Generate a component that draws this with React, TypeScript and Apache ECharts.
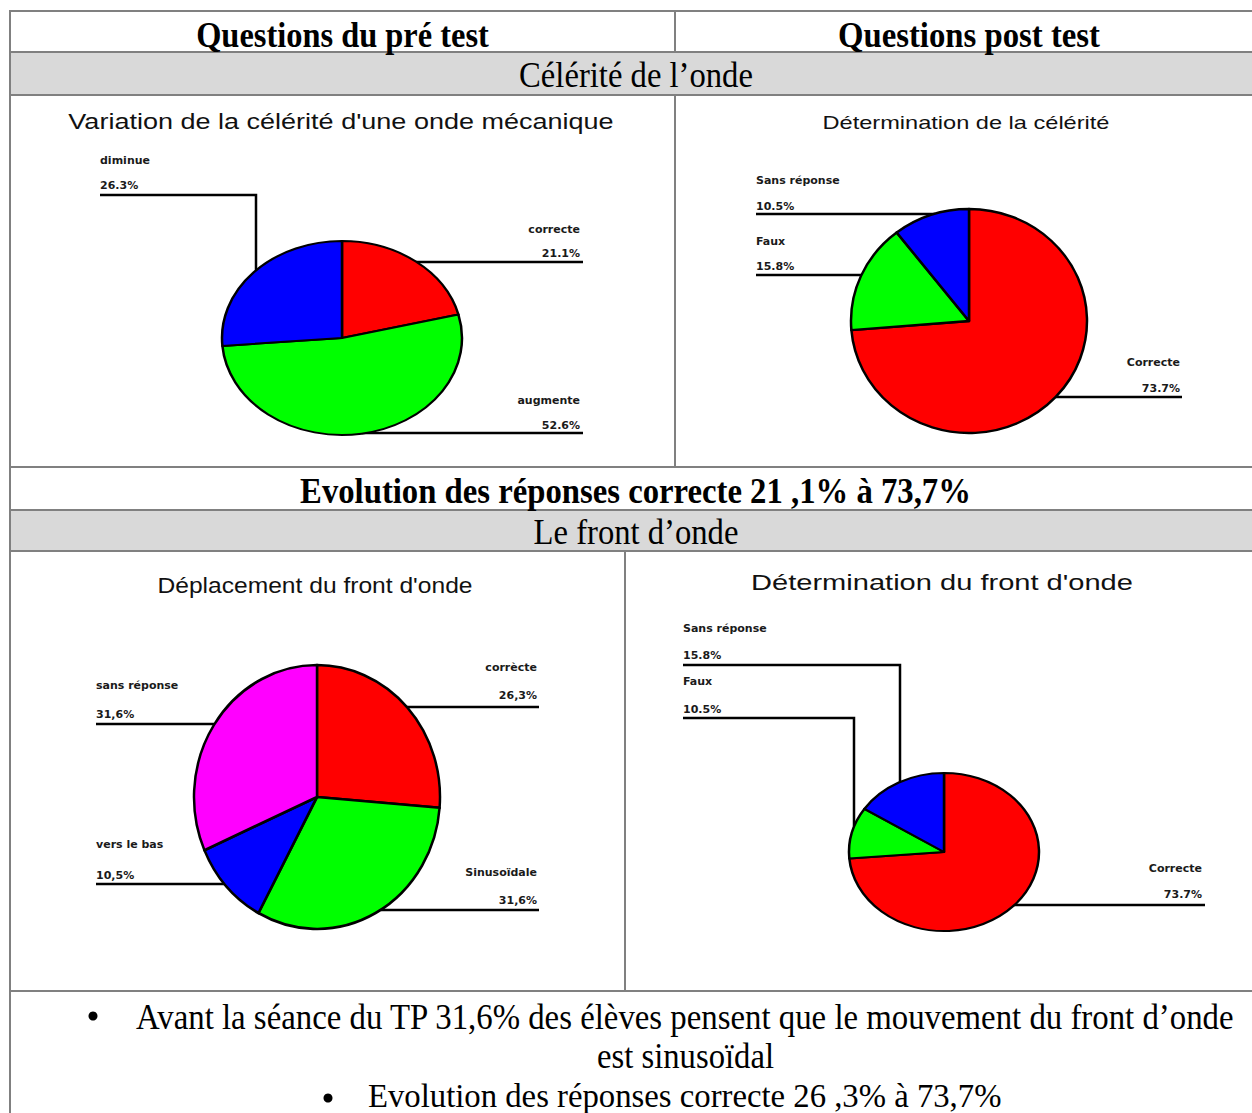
import React, { useEffect, useRef } from 'react';
import * as echarts from 'echarts';

// ---- Data ----
const pie1Title = "Variation de la célérité d'une onde mécanique";
const pie1Names = ['correcte', 'augmente', 'diminue'];
const pie1Values = [21.1, 52.6, 26.3];

const pie2Title = 'Détermination de la célérité';
const pie2Names = ['Correcte', 'Faux', 'Sans réponse'];
const pie2Values = [73.7, 15.8, 10.5];

const pie3Title = "Déplacement du front d'onde";
const pie3Names = ['corrècte', 'Sinusoïdale', 'vers le bas', 'sans réponse'];
const pie3Values = [26.3, 31.6, 10.5, 31.6];

const pie4Title = "Détermination du front d'onde";
const pie4Names = ['Correcte', 'Faux', 'Sans réponse'];
const pie4Values = [73.7, 10.5, 15.8];

const headerLeft = 'Questions du pré test';
const headerRight = 'Questions post test';
const section1 = 'Célérité de l’onde';
const summary1 = 'Evolution des réponses correcte 21 ,1% à 73,7%';
const section2 = 'Le front d’onde';
const note1a = 'Avant la séance du TP 31,6% des élèves pensent que le mouvement du front d’onde';
const note1b = 'est sinusoïdal';
const note2 = 'Evolution des réponses correcte 26 ,3% à 73,7%';

// ---- Styles / layout ----
const RED = '#ff0000';
const GREEN = '#00ff00';
const BLUE = '#0000ff';
const MAGENTA = '#ff00ff';

type LabelPos = { x: number; align: 'left' | 'right'; nameY: number; valueY: number; line: number[][] };
type PieCfg = {
  title: string; names: string[]; values: number[]; colors: string[]; comma: boolean;
  titleX: number; titleY: number; titleSize: number; titleW: number;
  cx: number; cy: number; rx: number; ry: number; labels: LabelPos[];
};

const pies: PieCfg[] = [
  {
    title: pie1Title, names: pie1Names, values: pie1Values, colors: [RED, GREEN, BLUE], comma: false,
    titleX: 341, titleY: 121, titleSize: 22, titleW: 546,
    cx: 342, cy: 338, rx: 120, ry: 97,
    labels: [
      { x: 580, align: 'right', nameY: 229, valueY: 253, line: [[583, 262], [414, 262]] },
      { x: 580, align: 'right', nameY: 400, valueY: 425, line: [[583, 433], [362, 433]] },
      { x: 100, align: 'left', nameY: 160, valueY: 185, line: [[100, 195], [256, 195], [256, 271]] },
    ],
  },
  {
    title: pie2Title, names: pie2Names, values: pie2Values, colors: [RED, GREEN, BLUE], comma: false,
    titleX: 966, titleY: 123, titleSize: 19, titleW: 287,
    cx: 969, cy: 321, rx: 118, ry: 112,
    labels: [
      { x: 1180, align: 'right', nameY: 362, valueY: 388, line: [[1182, 397], [1056, 397]] },
      { x: 756, align: 'left', nameY: 241, valueY: 266, line: [[756, 275], [862, 275]] },
      { x: 756, align: 'left', nameY: 180, valueY: 206, line: [[756, 214], [935, 214]] },
    ],
  },
  {
    title: pie3Title, names: pie3Names, values: pie3Values, colors: [RED, GREEN, BLUE, MAGENTA], comma: true,
    titleX: 315, titleY: 585, titleSize: 22, titleW: 315,
    cx: 317, cy: 797, rx: 123, ry: 132,
    labels: [
      { x: 537, align: 'right', nameY: 667, valueY: 695, line: [[539, 707], [405, 707]] },
      { x: 537, align: 'right', nameY: 872, valueY: 900, line: [[539, 910], [381, 910]] },
      { x: 96, align: 'left', nameY: 844, valueY: 875, line: [[96, 884], [225, 884]] },
      { x: 96, align: 'left', nameY: 685, valueY: 714, line: [[96, 724], [214, 724]] },
    ],
  },
  {
    title: pie4Title, names: pie4Names, values: pie4Values, colors: [RED, GREEN, BLUE], comma: false,
    titleX: 942, titleY: 582, titleSize: 22, titleW: 382,
    cx: 944, cy: 852, rx: 95, ry: 79,
    labels: [
      { x: 1202, align: 'right', nameY: 868, valueY: 894, line: [[1205, 905], [1014, 905]] },
      { x: 683, align: 'left', nameY: 681, valueY: 709, line: [[683, 718], [854, 718], [854, 826]] },
      { x: 683, align: 'left', nameY: 628, valueY: 655, line: [[683, 665], [900, 665], [900, 782]] },
    ],
  },
];

const SERIF = '"Liberation Serif", "Times New Roman", serif';
const SANS = '"Liberation Sans", Arial, sans-serif';
const LABEL_SANS = '"DejaVu Sans", Verdana, sans-serif';
const GRID = '#808080';

let measureCtx: CanvasRenderingContext2D | null = null;
function measure(text: string, size: number, family: string, weight: string) {
  if (!measureCtx) {
    const c = document.createElement('canvas');
    measureCtx = c.getContext('2d');
  }
  if (!measureCtx) return 0;
  measureCtx.font = `${weight} ${size}px ${family}`;
  return measureCtx.measureText(text).width;
}

function txt(text: string, x: number, y: number, size: number, opts: any = {}) {
  const family = opts.family || SERIF;
  const weight = opts.weight || 'normal';
  let scaleX = 1;
  if (opts.width) {
    const w = measure(text, size, family, weight);
    if (w > 0) scaleX = opts.width / w;
  }
  return {
    type: 'text',
    x, y,
    scaleX,
    silent: true,
    style: {
      text,
      fontSize: size,
      fontFamily: family,
      fontWeight: weight,
      fill: opts.fill || '#000',
      align: opts.align || 'center',
      textAlign: opts.align || 'center',
      verticalAlign: 'middle',
      textVerticalAlign: 'middle',
    },
  };
}

function hline(x1: number, x2: number, y: number) {
  return { type: 'line', silent: true, shape: { x1, y1: y, x2, y2: y }, style: { stroke: GRID, lineWidth: 2 } };
}
function vline(x: number, y1: number, y2: number) {
  return { type: 'line', silent: true, shape: { x1: x, y1, x2: x, y2 }, style: { stroke: GRID, lineWidth: 2 } };
}

function buildOption() {
  const graphic: any[] = [];
  // gray section rows
  graphic.push({ type: 'rect', silent: true, shape: { x: 10, y: 53, width: 1250, height: 42 }, style: { fill: '#d9d9d9' } });
  graphic.push({ type: 'rect', silent: true, shape: { x: 10, y: 511, width: 1250, height: 40 }, style: { fill: '#d9d9d9' } });
  // table lines
  [11, 52, 95, 467, 510, 551, 991].forEach((y) => graphic.push(hline(10, 1260, y)));
  graphic.push(vline(10, 10, 1113));
  graphic.push(vline(675, 11, 52));
  graphic.push(vline(675, 95, 467));
  graphic.push(vline(625, 551, 991));

  // table texts (condensed Times look)
  graphic.push(txt(headerLeft, 342.5, 34, 36, { weight: 'bold', width: 293 }));
  graphic.push(txt(headerRight, 969, 34, 36, { weight: 'bold', width: 262 }));
  graphic.push(txt(section1, 636, 74, 36, { width: 234 }));
  graphic.push(txt(summary1, 635.5, 490, 36, { weight: 'bold', width: 671 }));
  graphic.push(txt(section2, 636, 531, 36, { width: 205 }));
  graphic.push({ type: 'circle', silent: true, shape: { cx: 93, cy: 1016, r: 4.5 }, style: { fill: '#000' } });
  graphic.push(txt(note1a, 136, 1016, 36, { align: 'left', width: 1100 }));
  graphic.push(txt(note1b, 685.5, 1055, 36, { width: 177 }));
  graphic.push({ type: 'circle', silent: true, shape: { cx: 328, cy: 1098, r: 4.5 }, style: { fill: '#000' } });
  graphic.push(txt(note2, 368, 1095, 34, { align: 'left', width: 634 }));

  const series: any[] = [];
  pies.forEach((p) => {
    graphic.push(txt(p.title, p.titleX, p.titleY, p.titleSize, { family: SANS, fill: '#111', width: p.titleW }));
    const total = p.values.reduce((a, b) => a + b, 0);
    const cum: number[] = [];
    let acc = 0;
    p.values.forEach((v) => { cum.push(acc); acc += v; });

    p.labels.forEach((lb, i) => {
      const pct = p.values[i].toFixed(1).replace('.', p.comma ? ',' : '.') + '%';
      graphic.push(txt(p.names[i], lb.x, lb.nameY, 11, { family: LABEL_SANS, weight: 'bold', fill: '#1a1a1a', align: lb.align }));
      graphic.push(txt(pct, lb.x, lb.valueY, 11, { family: LABEL_SANS, weight: 'bold', fill: '#1a1a1a', align: lb.align }));
      graphic.push({
        type: 'polyline', silent: true,
        shape: { points: lb.line },
        style: { stroke: '#000', lineWidth: 2.5, fill: null },
      });
    });

    series.push({
      type: 'custom',
      coordinateSystem: 'none',
      silent: true,
      data: p.values,
      renderItem: (params: any, api: any) => {
        const i = params.dataIndex;
        const v = api.value(0);
        const a0 = -Math.PI / 2 + (cum[i] / total) * Math.PI * 2;
        const a1 = a0 + (v / total) * Math.PI * 2;
        return {
          type: 'group',
          x: p.cx,
          y: p.cy,
          scaleX: 1,
          scaleY: p.ry / p.rx,
          children: [
            {
              type: 'sector',
              shape: { cx: 0, cy: 0, r: p.rx, r0: 0, startAngle: a0, endAngle: a1, clockwise: true },
              style: { fill: p.colors[i], stroke: '#000', lineWidth: 2.5, lineJoin: 'round' },
            },
          ],
        };
      },
    });
  });

  return {
    animation: false,
    backgroundColor: '#ffffff',
    graphic,
    series,
  };
}

export default function App() {
  const ref = useRef<HTMLDivElement>(null);
  useEffect(() => {
    if (!ref.current) return;
    const chart = echarts.init(ref.current, undefined, { renderer: 'svg' });
    chart.setOption(buildOption() as any);
    return () => chart.dispose();
  }, []);
  return (
    <div
      ref={ref}
      style={{ position: 'absolute', left: 0, top: 0, width: 1252, height: 1113, background: '#fff' }}
    />
  );
}
